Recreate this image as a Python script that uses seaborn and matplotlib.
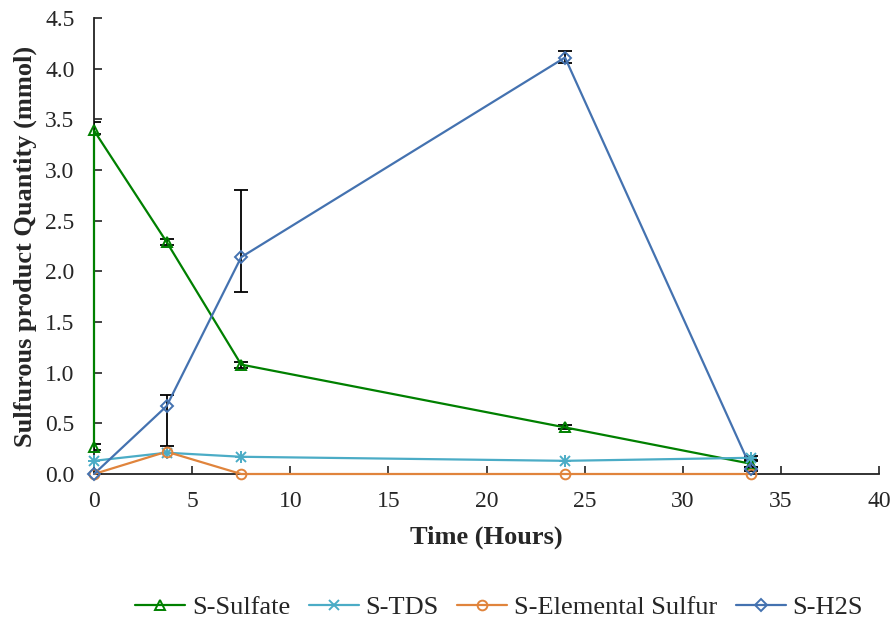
import numpy as np
import pandas as pd
import matplotlib
matplotlib.use("Agg")
import matplotlib.pyplot as plt
import seaborn as sns

# Sampling times (hours)
sulfate_t = [0, 0, 3.7, 7.5, 24, 33.5]
sulfate_v = [0.27, 3.39, 2.29, 1.08, 0.46, 0.10]
sulfate_lo = [0.03, 0.03, 0.03, 0.03, 0.02, 0.03]
sulfate_hi = [0.03, 0.08, 0.03, 0.03, 0.02, 0.03]

tds_t = [0, 3.7, 7.5, 24, 33.5]
tds_v = [0.13, 0.21, 0.17, 0.13, 0.16]

elem_t = [0, 3.7, 7.5, 24, 33.5]
elem_v = [0.0, 0.22, 0.0, 0.0, 0.0]

h2s_t = [0, 3.7, 7.5, 24, 33.5]
h2s_v = [0.0, 0.67, 2.14, 4.11, 0.05]
h2s_lo = [0.0, 0.39, 0.34, 0.05, 0.02]
h2s_hi = [0.0, 0.11, 0.66, 0.06, 0.02]

sns.set_theme(style="ticks")
plt.rcParams["font.family"] = ["Liberation Serif", "DejaVu Serif"]

fig = plt.figure(figsize=(8.96, 6.18), dpi=100)
ax = fig.add_axes([94 / 896, 1 - 474 / 618, (879 - 94) / 896, (474 - 18) / 618])

green = "#008000"
teal = "#4BACC6"
orange = "#E0843C"
blue = "#4472B0"

frames = {
    "S-Sulfate": pd.DataFrame({"t": sulfate_t, "v": sulfate_v}),
    "S-TDS": pd.DataFrame({"t": tds_t, "v": tds_v}),
    "S-Elemental Sulfur": pd.DataFrame({"t": elem_t, "v": elem_v}),
    "S-H2S": pd.DataFrame({"t": h2s_t, "v": h2s_v}),
}
styles = {
    "S-Sulfate": dict(color=green, marker="^"),
    "S-TDS": dict(color=teal, marker="x"),
    "S-Elemental Sulfur": dict(color=orange, marker="o"),
    "S-H2S": dict(color=blue, marker="D"),
}

# Error bars (black, capped)
eb = dict(fmt="none", ecolor="black", elinewidth=1.3, capsize=5, capthick=1.3, zorder=3)
ax.errorbar(sulfate_t, sulfate_v, yerr=[sulfate_lo, sulfate_hi], **eb)
ax.errorbar(h2s_t[1:], h2s_v[1:], yerr=[h2s_lo[1:], h2s_hi[1:]], **eb)
ax.errorbar(tds_t[-1:], tds_v[-1:], yerr=0.02, **eb)

handles = []
for name, df in frames.items():
    st = styles[name]
    ms = 6 if st["marker"] == "D" else 7
    sns.lineplot(data=df, x="t", y="v", sort=False, estimator=None, ax=ax,
                 color=st["color"], linewidth=1.6, zorder=4, legend=False, clip_on=False)
    face = st["color"] if st["marker"] == "x" else "none"
    ax.plot(df["t"], df["v"], marker=st["marker"], markersize=ms, linestyle="none",
            markerfacecolor=face, markeredgecolor=st["color"], markeredgewidth=1.4,
            zorder=5, clip_on=False)
    if st["marker"] == "x":
        ax.plot(df["t"], df["v"], marker="+", markersize=8, linestyle="none",
                color=st["color"], markeredgewidth=1.4, zorder=5, clip_on=False)
    h, = ax.plot([], [], color=st["color"], linewidth=1.6, marker=st["marker"],
                 markersize=ms, markerfacecolor=face,
                 markeredgecolor=st["color"], markeredgewidth=1.4, label=name)
    handles.append(h)

ax.set_xlim(0, 40)
ax.set_ylim(0, 4.5)
ax.set_xticks(np.arange(0, 41, 5))
yt = np.arange(0, 4.51, 0.5)
ax.set_yticks(yt)
ax.set_yticklabels([f"{v:.1f}" for v in yt])
ax.tick_params(axis="both", direction="in", length=6, width=1.2, labelsize=17,
               color="#222222")
ax.tick_params(axis="y", pad=14)
ax.tick_params(axis="x", pad=12)
for s in ["top", "right"]:
    ax.spines[s].set_visible(False)
for s in ["left", "bottom"]:
    ax.spines[s].set_color("#222222")
    ax.spines[s].set_linewidth(1.3)
    ax.spines[s].set_zorder(2)

ax.set_xlabel("Time (Hours)", fontsize=19, fontweight="bold", labelpad=10)
ax.set_ylabel("Sulfurous product Quantity (mmol)", fontsize=19, fontweight="bold", labelpad=6)

fig.legend(handles=handles, loc="center", bbox_to_anchor=(499 / 896, 1 - 607 / 618),
           ncol=4, frameon=False, fontsize=19, handlelength=1.9, columnspacing=0.7,
           handletextpad=0.25)

fig.savefig("out.png", dpi=100)
